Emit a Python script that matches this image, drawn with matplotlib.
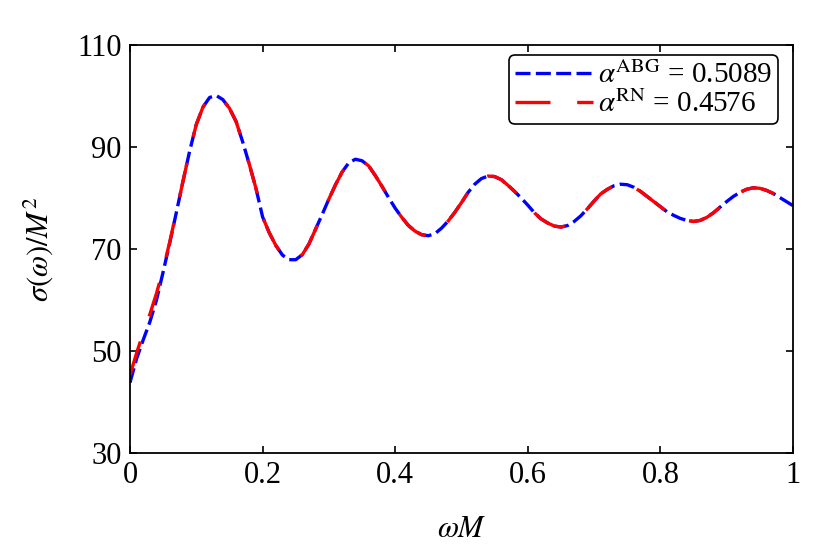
import numpy as np
import matplotlib
matplotlib.use("Agg")
import matplotlib.pyplot as plt

plt.rcParams['font.family'] = ['Liberation Serif', 'DejaVu Serif']
plt.rcParams['mathtext.fontset'] = 'stix'

# omega*M sampled every 0.01
omega_m = np.round(np.arange(0, 1.0001, 0.01), 2)

# sigma/M^2, alpha_ABG = 0.5089 (blue)
sigma_abg = [
    43.8, 48.5, 52.2, 55.7, 60.0, 65.5, 71.2, 77.2, 83.3, 89.2,
    94.4, 97.8, 99.7, 100.1, 99.3, 97.6, 95.0, 91.0, 86.6, 81.9,
    76.3, 73.2, 70.7, 68.8, 67.9, 67.9, 68.9, 71.0, 73.9, 76.8,
    79.8, 82.6, 85.1, 86.9, 87.6, 87.3, 86.3, 84.4, 82.3, 80.1,
    78.0, 76.2, 74.6, 73.5, 72.8, 72.6, 73.0, 74.1, 75.5, 77.2,
    79.1, 81.1, 82.7, 83.8, 84.3, 84.2, 83.6, 82.5, 81.3, 80.0,
    78.6, 77.1, 75.9, 75.1, 74.5, 74.3, 74.6, 75.4, 76.5, 77.9,
    79.4, 80.8, 81.7, 82.4, 82.7, 82.6, 82.1, 81.3, 80.3, 79.3,
    78.3, 77.3, 76.6, 76.0, 75.6, 75.4, 75.6, 76.2, 77.1, 78.2,
    79.3, 80.3, 81.1, 81.7, 82.0, 81.9, 81.5, 80.9, 80.1, 79.3,
    78.5,
]

# alpha_RN = 0.4576 (red) differs only at the start
sigma_rn_start = [45.3, 49.6, 53.6, 57.2, 61.3, 66.0, 71.4, 77.3]
sigma_rn = sigma_rn_start + sigma_abg[len(sigma_rn_start):]

x_ticks = [0, 0.2, 0.4, 0.6, 0.8, 1]
x_tick_labels = ['0', '0.2', '0.4', '0.6', '0.8', '1']
y_ticks = [30, 50, 70, 90, 110]

fig = plt.figure(figsize=(8.3, 5.54), dpi=100)
ax = fig.add_axes([0.1566, 0.1823, 0.7988, 0.7365])

ax.plot(omega_m, sigma_abg, color='blue', lw=2.4, dashes=(4.5, 1.6),
        dash_joinstyle='round', label=r'$\alpha^{\mathrm{ABG}}$ = 0.5089')
ax.plot(omega_m, sigma_rn, color='red', lw=2.4, dashes=(10.5, 8),
        dash_joinstyle='round', label=r'$\alpha^{\mathrm{RN}}$ = 0.4576')

ax.set_xlim(0, 1)
ax.set_ylim(30, 110)
ax.set_xticks(x_ticks)
ax.set_xticklabels(x_tick_labels)
ax.set_yticks(y_ticks)
ax.tick_params(direction='in', top=True, right=True, length=5, width=1.2,
               labelsize=22, pad=6)
for s in ax.spines.values():
    s.set_linewidth(1.3)

ax.set_xlabel(r'$\omega M$', fontsize=22, labelpad=18)
ax.set_ylabel(r'$\sigma(\omega)/M^2$', fontsize=22, labelpad=16)

leg = ax.legend(loc='upper right', bbox_to_anchor=(0.977, 0.975),
                borderaxespad=0, fontsize=21, handlelength=2.7,
                handletextpad=0.15, labelspacing=0.05, borderpad=0.2,
                fancybox=True, framealpha=1)
leg.get_frame().set_edgecolor('black')
leg.get_frame().set_linewidth(1.2)

fig.savefig('out.png', dpi=100)
